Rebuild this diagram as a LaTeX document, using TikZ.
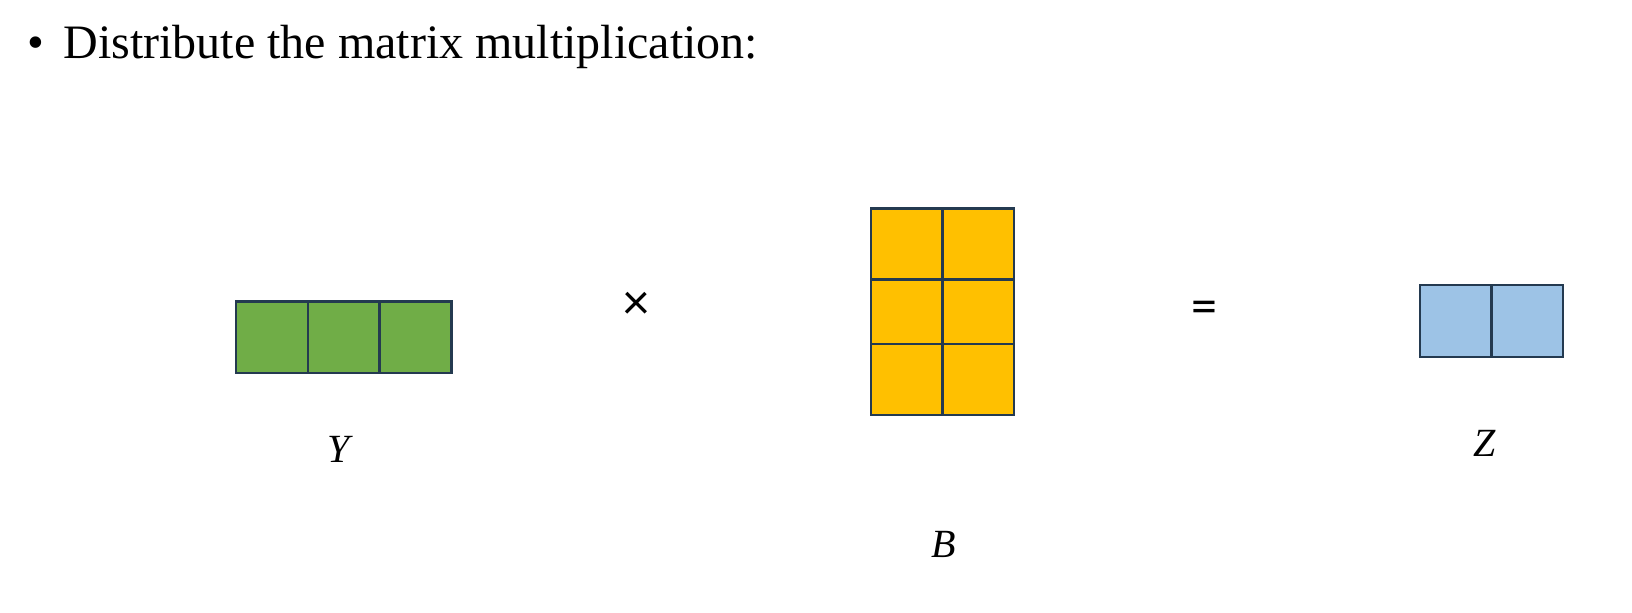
\documentclass[tikz,border=0pt]{standalone}
\usepackage{fontspec}
\setmainfont{Liberation Serif}
\newfontfamily\opfont{Carlito}
\definecolor{ygreen}{HTML}{70AD47}
\definecolor{byellow}{HTML}{FFC000}
\definecolor{zblue}{HTML}{9DC3E6}
\definecolor{edgecol}{HTML}{243A50}
\begin{document}
\begin{tikzpicture}[x=0.5pt, y=-0.5pt,
		cell/.style={draw=edgecol, line width=1.2pt},
		lab/.style={font=\fontsize{20}{24}\selectfont\itshape},
		op/.style={font=\fontsize{26}{30}\opfont}]
		\useasboundingbox (0,0) rectangle (1632,612);
		\node[anchor=base, font=\fontsize{24}{28}\selectfont] (dot) at (36,58.3) {\textbullet};
		\node[anchor=base west, inner sep=0, font=\fontsize{24}{28}\selectfont] (title) at (63,58.3) {Distribute the matrix multiplication:};
		% Y
		\foreach \i in {0,1,2}
			\draw[cell, fill=ygreen] (236+71.8*\i,301.5) rectangle ++(71.8,71.2);
		\node[lab] (ylab) at (338.3,449.4) {Y};
		\node[op] (times) at (636.7,306) {×};
		% B
		\foreach \t/\b in {208.3/279.3, 279.3/344, 344/415}
			\foreach \l/\r in {871/942.3, 942.3/1013.7}
				\draw[cell, fill=byellow] (\l,\t) rectangle (\r,\b);
		\node[lab] (blab) at (943.5,544.5) {B};
		\node[op] (equals) at (1204,312.3) {=};
		% Z
		\foreach \l/\r in {1420/1491.3, 1491.3/1563}
			\draw[cell, fill=zblue] (\l,285) rectangle (\r,357);
		\node[lab] (zlab) at (1485,443.3) {Z};
	\end{tikzpicture}
\end{document}
